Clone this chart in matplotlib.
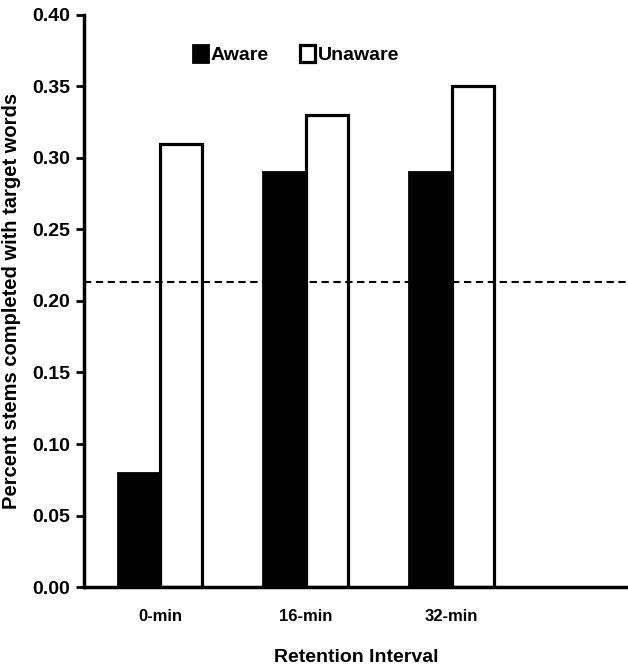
import numpy as np
import matplotlib.pyplot as plt

intervals = ["0-min", "16-min", "32-min"]
aware = [0.08, 0.29, 0.29]
unaware = [0.31, 0.33, 0.35]
chance = 0.213

plt.rcParams['font.family'] = ['Liberation Sans', 'DejaVu Sans']
plt.rcParams['font.weight'] = 'bold'

fig = plt.figure(figsize=(6.28, 6.68), dpi=100)
ax = fig.add_axes([0.134, 0.121, 0.866, 0.857])

x = np.arange(len(intervals))
w = 0.29
ax.bar(x - w/2, aware, w, color="black", edgecolor="black", linewidth=2, label="Aware")
ax.bar(x + w/2, unaware, w, color="white", edgecolor="black", linewidth=2.3, label="Unaware")
ax.axhline(chance, color="black", linestyle=(0, (3.5, 2.2)), linewidth=1.5, zorder=3)

ax.set_xlim(-0.52, 3.21)
ax.set_ylim(0, 0.40)
ticks = np.arange(0, 0.41, 0.05)
ax.set_yticks(ticks)
ax.set_yticklabels([f"{v:.2f}" for v in ticks])
ax.set_xticks(x)
ax.set_xticklabels(intervals)
ax.tick_params(axis="x", length=0, pad=16, labelsize=12)
ax.tick_params(axis="y", length=6, width=2, labelsize=14, pad=4)
ax.spines["top"].set_visible(False)
ax.spines["right"].set_visible(False)
ax.spines["left"].set_linewidth(2.5)
ax.spines["bottom"].set_linewidth(2.5)

ax.set_xlabel("Retention Interval", fontsize=14, fontweight="bold", labelpad=18)
ax.set_ylabel("Percent stems completed with target words", fontsize=14.5,
              fontweight="bold", labelpad=8)

ax.legend(loc="center", bbox_to_anchor=(0.39, 0.93), ncol=2, frameon=False,
          fontsize=14, handlelength=0.75, handleheight=0.9, handletextpad=0.15,
          columnspacing=1.6)

fig.savefig("out.png", dpi=100)
